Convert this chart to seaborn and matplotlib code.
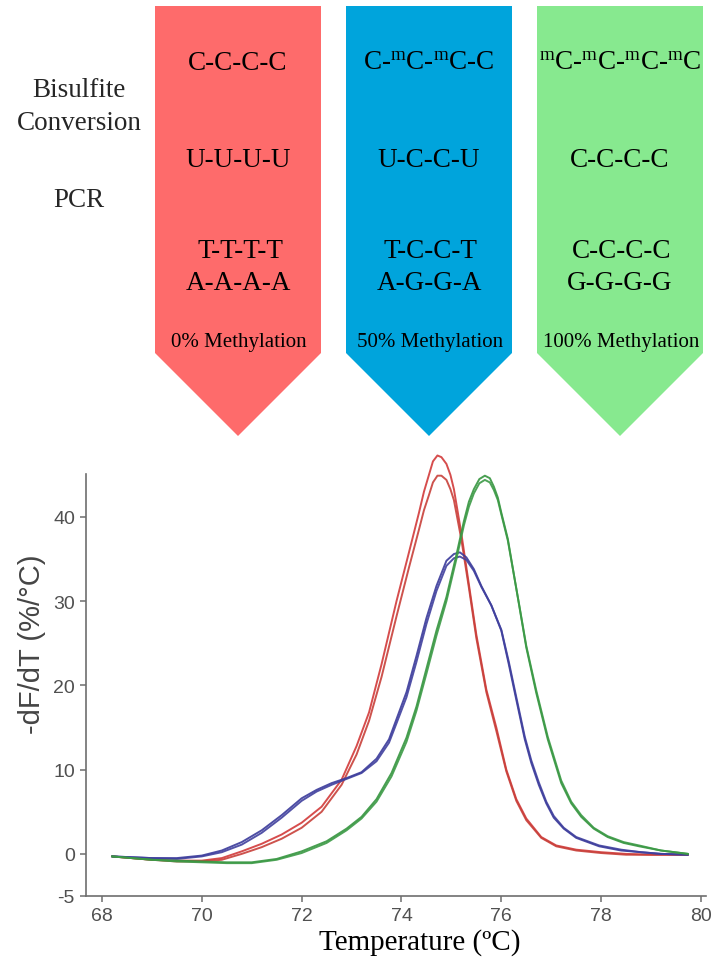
import matplotlib
matplotlib.use("Agg")
import matplotlib.pyplot as plt
from matplotlib.patches import Polygon
import pandas as pd
import seaborn as sns

# ---------------- data ----------------
panel_labels = ["0% Methylation", "50% Methylation", "100% Methylation"]
row_original = ["C-C-C-C", r"C-$^{\mathrm{m}}$C-$^{\mathrm{m}}$C-C",
                r"$^{\mathrm{m}}$C-$^{\mathrm{m}}$C-$^{\mathrm{m}}$C-$^{\mathrm{m}}$C"]
row_bisulfite = ["U-U-U-U", "U-C-C-U", "C-C-C-C"]
row_pcr_top = ["T-T-T-T", "T-C-C-T", "C-C-C-C"]
row_pcr_bottom = ["A-A-A-A", "A-G-G-A", "G-G-G-G"]
panel_colors = ["#FE6B6B", "#00A4DC", "#87E98F"]

t_red = [68.2, 68.6, 69.0, 69.5, 70.0, 70.4, 70.8, 71.2, 71.6, 72.0, 72.4, 72.8, 73.1,
         73.35, 73.6, 73.9, 74.15, 74.35, 74.45, 74.55, 74.63, 74.72, 74.8, 74.9, 74.98,
         75.05, 75.2, 75.35, 75.5, 75.7, 75.9, 76.1, 76.3, 76.5, 76.8, 77.1, 77.5, 78.0,
         78.5, 79.0, 79.4, 79.74]
red_a = [-0.3, -0.5, -0.7, -0.8, -0.8, -0.5, 0.3, 1.2, 2.3, 3.7, 5.6, 8.8, 12.8,
         16.8, 22.5, 30.0, 35.8, 40.5, 43.0, 45.0, 46.6, 47.3, 47.1, 46.3, 45.0,
         43.3, 38.0, 32.0, 26.0, 19.5, 15.0, 10.0, 6.5, 4.2, 2.0, 1.0, 0.5, 0.2,
         0.0, -0.1, -0.1, -0.1]
red_b = [-0.3, -0.5, -0.7, -0.9, -0.9, -0.7, 0.0, 0.8, 1.8, 3.1, 5.0, 8.2, 11.8,
         15.8, 21.0, 28.2, 34.0, 38.5, 40.8, 42.6, 44.1, 44.9, 44.9, 44.4, 43.3,
         42.0, 37.3, 31.6, 25.6, 19.2, 14.6, 9.8, 6.3, 4.0, 1.9, 0.9, 0.4, 0.1,
         -0.1, -0.1, -0.1, -0.1]

t_blue = [68.2, 68.6, 69.0, 69.5, 70.0, 70.4, 70.8, 71.2, 71.6, 72.0, 72.3, 72.6, 72.9,
          73.2, 73.5, 73.75, 73.9, 74.1, 74.3, 74.5, 74.7, 74.9, 75.05, 75.17, 75.3,
          75.45, 75.6, 75.8, 76.0, 76.15, 76.3, 76.47, 76.6, 76.75, 76.9, 77.05, 77.25,
          77.5, 77.96, 78.4, 78.8, 79.2, 79.74]
blue_a = [-0.3, -0.4, -0.5, -0.5, -0.2, 0.4, 1.4, 2.8, 4.6, 6.6, 7.6, 8.4, 9.0,
          9.7, 11.3, 13.6, 16.0, 19.2, 23.5, 28.0, 31.8, 34.8, 35.6, 35.8, 35.2,
          33.8, 31.8, 29.5, 26.5, 22.5, 18.3, 13.6, 10.8, 8.2, 6.0, 4.3, 3.0,
          1.9, 0.9, 0.4, 0.2, 0.0, -0.1]
blue_b = [-0.3, -0.4, -0.5, -0.6, -0.3, 0.2, 1.1, 2.5, 4.3, 6.3, 7.4, 8.2, 8.9,
          9.6, 11.0, 13.2, 15.5, 18.6, 22.8, 27.3, 31.2, 34.2, 35.1, 35.3, 34.9,
          33.6, 31.7, 29.5, 26.6, 22.8, 18.6, 13.9, 11.1, 8.5, 6.2, 4.5, 3.1,
          2.0, 1.0, 0.5, 0.2, 0.0, -0.1]

t_green = [68.2, 68.6, 69.0, 69.5, 70.0, 70.5, 71.0, 71.5, 72.0, 72.5, 72.9, 73.2, 73.5,
           73.8, 74.1, 74.3, 74.5, 74.7, 74.9, 75.1, 75.25, 75.35, 75.45, 75.56, 75.67,
           75.77, 75.85, 75.93, 76.0, 76.13, 76.36, 76.5, 76.7, 76.93, 77.2, 77.4, 77.6,
           77.85, 78.13, 78.45, 78.76, 79.2, 79.74]
green_a = [-0.3, -0.5, -0.7, -0.8, -0.9, -1.0, -1.0, -0.6, 0.3, 1.5, 3.0, 4.4, 6.5,
           9.6, 13.8, 17.5, 22.0, 26.5, 30.5, 35.5, 39.5, 41.8, 43.3, 44.5, 44.9,
           44.6, 43.6, 42.3, 40.5, 37.4, 29.4, 24.5, 19.1, 13.6, 8.4, 6.0, 4.4,
           3.0, 2.0, 1.3, 0.9, 0.4, 0.0]
green_b = [-0.3, -0.5, -0.7, -0.9, -1.0, -1.1, -1.1, -0.7, 0.1, 1.3, 2.8, 4.2, 6.2,
           9.2, 13.3, 17.0, 21.4, 25.9, 30.0, 35.0, 39.0, 41.2, 42.8, 44.0, 44.4,
           44.1, 43.2, 42.0, 40.3, 37.2, 29.5, 24.7, 19.4, 13.9, 8.7, 6.2, 4.6,
           3.1, 2.1, 1.4, 1.0, 0.4, 0.0]

x_ticks = [68, 70, 72, 74, 76, 78, 80]
y_ticks = [-5, 0, 10, 20, 30, 40]
x_label = "Temperature (\u00baC)"
y_label = "-dF/dT (%/\u00b0C)"

# ---------------- build frame ----------------
frames = []
for name, t, v in [("red_a", t_red, red_a), ("red_b", t_red, red_b),
                   ("blue_a", t_blue, blue_a), ("blue_b", t_blue, blue_b),
                   ("green_a", t_green, green_a), ("green_b", t_green, green_b)]:
    frames.append(pd.DataFrame({"T": t, "v": v, "curve": name}))
df = pd.concat(frames, ignore_index=True)
palette = {"red_a": "#D23A3A", "red_b": "#C8403A", "blue_a": "#3A3A9A",
           "blue_b": "#40409E", "green_a": "#35953F", "green_b": "#3C9A46"}

# ---------------- style ----------------
sns.set_theme(style="ticks")
plt.rcParams['font.family'] = ['Liberation Sans', 'DejaVu Sans']
plt.rcParams['mathtext.fontset'] = 'custom'
plt.rcParams['mathtext.rm'] = 'Liberation Serif'
plt.rcParams['mathtext.it'] = 'Liberation Serif:italic'
plt.rcParams['axes.unicode_minus'] = False
serif = ['Liberation Serif', 'DejaVu Serif']

W, H = 714, 962
fig = plt.figure(figsize=(W / 100, H / 100), dpi=100)
fig.patch.set_facecolor("white")

# ---------------- top diagram ----------------
ov = fig.add_axes([0, 0, 1, 1])
ov.set_xlim(0, W)
ov.set_ylim(H, 0)
ov.axis('off')

lefts = [155, 346, 537]
aw, top, shoulder, tip = 166, 7, 354, 437
for i, x0 in enumerate(lefts):
    cx = x0 + aw / 2
    poly = Polygon([(x0, top), (x0 + aw, top), (x0 + aw, shoulder), (cx, tip), (x0, shoulder)],
                   closed=True, facecolor=panel_colors[i], edgecolor='none')
    ov.add_patch(poly)
    ov.text(cx, 70, row_original[i], ha='center', va='baseline', fontsize=19.5,
            family=serif, color='black')
    ov.text(cx, 167, row_bisulfite[i], ha='center', va='baseline', fontsize=19.5,
            family=serif, color='black')
    ov.text(cx + 2, 258, row_pcr_top[i], ha='center', va='baseline', fontsize=19.5,
            family=serif, color='black')
    ov.text(cx, 290, row_pcr_bottom[i], ha='center', va='baseline', fontsize=19.5,
            family=serif, color='black')
    ov.text(cx + 1, 347, panel_labels[i], ha='center', va='baseline', fontsize=15,
            family=serif, color='black')

ov.text(79, 97, "Bisulfite", ha='center', va='baseline', fontsize=19.5, family=serif)
ov.text(79, 130, "Conversion", ha='center', va='baseline', fontsize=19.5, family=serif)
ov.text(79, 207, "PCR", ha='center', va='baseline', fontsize=19.5, family=serif)

# ---------------- melt curve chart ----------------
ax = fig.add_axes([86 / W, 1 - 897 / H, 620 / W, 422 / H])
ax.patch.set_alpha(0)
sns.lineplot(data=df, x="T", y="v", hue="curve", palette=palette, estimator=None,
             sort=False, legend=False, linewidth=1.4, ax=ax)
for ln in ax.lines:
    ln.set_clip_on(False)
    ln.set_alpha(0.9)

ax.set_xlim(67.68, 80.1)
ax.set_ylim(-5, 45.1)
ax.set_xticks(x_ticks)
ax.set_yticks(y_ticks)
sns.despine(ax=ax)
for s in ["left", "bottom"]:
    ax.spines[s].set_color("#6E6E6E")
    ax.spines[s].set_linewidth(1.2)
ax.tick_params(axis='both', colors="#6E6E6E", labelcolor="#505050", labelsize=14,
               length=4, width=1.1, pad=4)

ax.set_xlabel(x_label, fontsize=21, family=serif, color='black', va='center')
ax.xaxis.set_label_coords(0.539, -0.107)
ax.set_ylabel(y_label, fontsize=21, color='#454545', va='center')
ax.yaxis.set_label_coords(-0.087, 0.60)

fig.savefig("out.png", dpi=100, facecolor="white")
